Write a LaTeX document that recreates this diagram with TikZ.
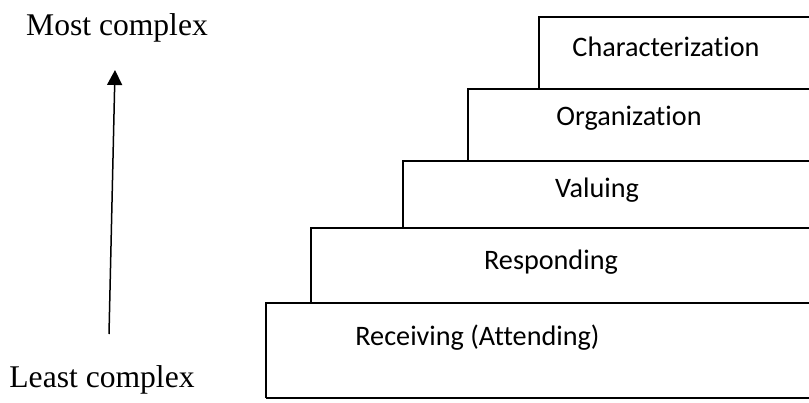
\documentclass[tikz,border=0pt]{standalone}
\usepackage{fontspec}
\setmainfont{Liberation Serif}
\newfontfamily\calibrifont[Ligatures=NoCommon]{Carlito}
\usepackage{tikz}
\usetikzlibrary{arrows.meta, positioning}

\tikzset{
  levellabel/.style={font=\calibrifont\fontsize{14.1}{17}\selectfont, inner sep=0pt},
  axislabel/.style={font=\fontsize{15.8}{19}\selectfont, inner sep=0pt},
  stepbox/.style={draw, line width=1pt}
}

\begin{document}
\begin{tikzpicture}[x=0.5pt, y=-0.5pt]
        \useasboundingbox (0,0) rectangle (809,402);
        \clip (0,0) rectangle (809,402);

        % Steps of the staircase (left edge / top / bottom)
        \foreach \l/\t/\b in {539/17/89, 468/89/161, 403/161/228, 311/228/303, 266/303/398}
            \draw[stepbox] (\l,\b) -- (\l,\t) -- (830,\t) (\l,\b) -- (830,\b);

        % Level labels
        \node[levellabel] (character) at (666, 47) {Characterization};
        \node[levellabel] (organ) at (629, 118) {Organization};
        \node[levellabel] (valuing) at (597, 190) {Valuing};
        \node[levellabel] (respond) at (551, 262) {Responding};
        \node[levellabel, anchor=west] (receive) at (355, 338) {Receiving (Attending)};

        % Complexity axis
        \node[axislabel] (most) at (117, 28) {Most complex};
        \node[axislabel] (least) at (102, 380) {Least complex};
        \coordinate (axistail) at (109, 334);
        \coordinate (axistip) at (115, 70);
        \draw[line width=0.75pt, -{Triangle[length=7.5pt, width=7.5pt]}] (axistail) -- (axistip);
\end{tikzpicture}
\end{document}
